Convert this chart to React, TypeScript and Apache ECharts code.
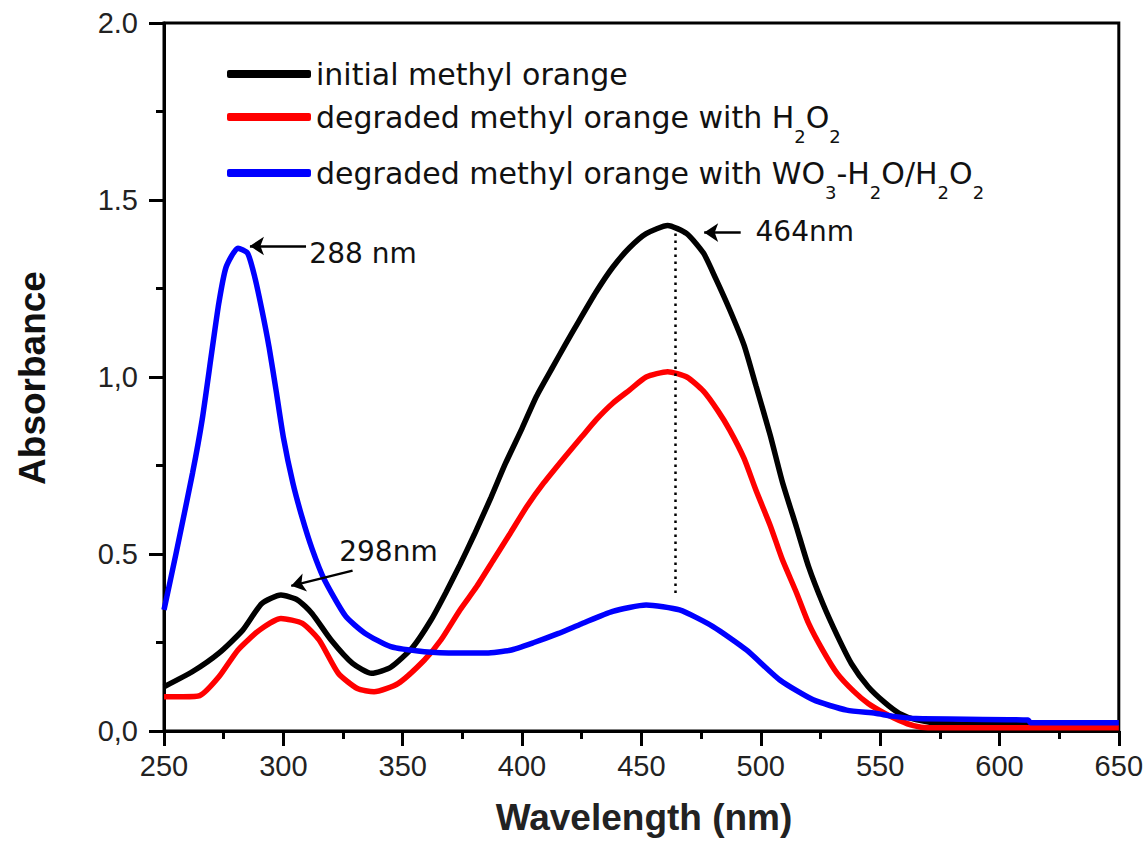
import React, { useEffect, useRef } from "react";
import * as echarts from "echarts";

// ---- data ----
const seriesNames = [
  "initial methyl orange",
  "degraded methyl orange with H2O2",
  "degraded methyl orange with WO3-H2O/H2O2",
];

const blackX = [250, 262, 273, 283, 291, 299, 306, 312, 320, 329, 337, 345, 354, 362, 368, 374, 380, 387, 393, 400, 406, 413, 418, 424, 431, 438, 445, 452, 461, 469, 476, 481, 487, 493, 498, 504, 509, 515, 520, 526, 532, 538, 545, 552, 558, 565, 575, 600, 650];
const blackY = [0.125, 0.168, 0.22, 0.285, 0.36, 0.384, 0.37, 0.332, 0.257, 0.191, 0.163, 0.18, 0.235, 0.315, 0.39, 0.47, 0.555, 0.66, 0.755, 0.855, 0.945, 1.03, 1.09, 1.16, 1.24, 1.31, 1.365, 1.405, 1.428, 1.405, 1.35, 1.28, 1.19, 1.09, 0.975, 0.835, 0.705, 0.575, 0.465, 0.36, 0.27, 0.19, 0.125, 0.08, 0.05, 0.032, 0.022, 0.018, 0.018];

const redX = [250, 258, 265, 273, 281, 290, 299, 308, 315, 323, 331, 338, 348, 359, 366, 374, 381, 388, 395, 402, 409, 418, 425, 431, 438, 445, 452, 461, 469, 476, 482, 487, 493, 498, 504, 509, 515, 520, 526, 532, 539, 545, 552, 558, 564, 570, 650];
const redY = [0.097, 0.097, 0.1, 0.153, 0.229, 0.285, 0.318, 0.304, 0.257, 0.163, 0.12, 0.111, 0.134, 0.2, 0.257, 0.342, 0.408, 0.483, 0.558, 0.634, 0.7, 0.775, 0.831, 0.879, 0.926, 0.963, 1.0, 1.015, 1.0, 0.96, 0.905, 0.85, 0.77, 0.68, 0.58, 0.485, 0.39, 0.305, 0.228, 0.163, 0.112, 0.078, 0.05, 0.03, 0.015, 0.009, 0.009];

const blueX = [250, 255, 262, 266, 270, 273, 276, 281, 285, 288, 291, 294, 297, 300, 304, 308, 312, 317, 326, 334, 345, 359, 373, 385, 395, 405, 415, 425, 438, 452, 466, 480, 494, 508, 522, 536, 548, 555, 565, 612, 613, 650];
const blueY = [0.342, 0.5, 0.73, 0.88, 1.07, 1.21, 1.31, 1.364, 1.35, 1.283, 1.19, 1.085, 0.96, 0.83, 0.7, 0.6, 0.515, 0.43, 0.325, 0.277, 0.238, 0.224, 0.22, 0.22, 0.228, 0.25, 0.275, 0.303, 0.338, 0.356, 0.342, 0.295, 0.229, 0.144, 0.088, 0.059, 0.05, 0.042, 0.035, 0.031, 0.023, 0.023];

const xTicks = { min: 250, max: 650, interval: 50 };
const yTicks = { min: 0, max: 2, interval: 0.5 };

// annotations: [wavelength, absorbance]
const peakLabels = [
  { text: "288 nm", at: [310.9, 1.35] },
  { text: "298nm", at: [323.4, 0.508] },
  { text: "464nm", at: [497.8, 1.41] },
];
const arrows = [
  { from: [309.5, 1.37], to: [286, 1.37] },
  { from: [329.0, 0.453], to: [303.3, 0.41] },
  { from: [491.6, 1.408], to: [476.3, 1.408] },
];
const peakLine = { from: [464, 1.425], to: [464, 0.385] };

const legendRich: Record<string, string> = {
  [seriesNames[0]]: "{t|initial methyl orange}",
  [seriesNames[1]]: "{t|degraded methyl orange with H}{s|2}{t|O}{s|2}",
  [seriesNames[2]]:
    "{t|degraded methyl orange with WO}{s|3}{t|-H}{s|2}{t|O/H}{s|2}{t|O}{s|2}",
};

const zip = (xs: number[], ys: number[]) => xs.map((x, i) => [x, ys[i]]);

export default function App() {
  const ref = useRef<HTMLDivElement>(null);
  useEffect(() => {
    if (!ref.current) return;
    const chart = echarts.init(ref.current, undefined, { renderer: "svg" });
    const tickFont = { fontFamily: "Liberation Sans", fontSize: 29, color: "#222" };
    const annFont = { fontFamily: "DejaVu Sans", fontSize: 28, color: "#111" };
    chart.setOption({
      animation: false,
      backgroundColor: "#fff",
      grid: {
        left: 164,
        right: 22,
        top: 23,
        bottom: 110,
        show: true,
        borderColor: "#000",
        borderWidth: 3,
      },
      legend: {
        orient: "vertical",
        left: 222,
        top: 54,
        itemWidth: 84,
        itemHeight: 8,
        itemGap: 0,
        icon: "roundRect",
        data: seriesNames,
        formatter: (name: string) => legendRich[name] || name,
        textStyle: {
          color: "#111",
          rich: {
            t: { fontFamily: "DejaVu Sans", fontSize: 30, lineHeight: 32, color: "#111" },
            s: {
              fontFamily: "DejaVu Sans",
              fontSize: 18,
              lineHeight: 18,
              padding: [38, 0, 0, 0],
              color: "#111",
            },
          },
        },
      },
      xAxis: {
        type: "value",
        min: xTicks.min,
        max: xTicks.max,
        interval: xTicks.interval,
        axisLine: { lineStyle: { color: "#000", width: 3 } },
        axisTick: { length: 15, lineStyle: { color: "#000", width: 3 } },
        minorTick: { show: true, splitNumber: 2, length: 8, lineStyle: { color: "#000", width: 3 } },
        splitLine: { show: false },
        axisLabel: { margin: 20, ...tickFont },
      },
      yAxis: {
        type: "value",
        min: yTicks.min,
        max: yTicks.max,
        interval: yTicks.interval,
        axisLine: { lineStyle: { color: "#000", width: 3 } },
        axisTick: { length: 15, lineStyle: { color: "#000", width: 3 } },
        minorTick: { show: true, splitNumber: 2, length: 8, lineStyle: { color: "#000", width: 3 } },
        splitLine: { show: false },
        axisLabel: {
          margin: 26,
          ...tickFont,
          formatter: (v: number) =>
            v === 0 ? "0,0" : v === 1 ? "1,0" : v.toFixed(1),
        },
      },
      graphic: [
        {
          type: "text",
          x: 32,
          y: 378,
          rotation: Math.PI / 2,
          style: {
            text: "Absorbance",
            fontFamily: "Liberation Sans",
            fontWeight: "bold",
            fontSize: 37,
            fill: "#111",
            align: "center",
            verticalAlign: "middle",
          },
        },
        {
          type: "text",
          x: 644,
          y: 817,
          style: {
            text: "Wavelength (nm)",
            fontFamily: "Liberation Sans",
            fontWeight: "bold",
            fontSize: 37,
            fill: "#222",
            align: "center",
            verticalAlign: "middle",
          },
        },
      ],
      series: [
        {
          name: seriesNames[0],
          type: "line",
          data: zip(blackX, blackY),
          showSymbol: false,
          smooth: 0.2,
          color: "#000",
          lineStyle: { width: 5.5, color: "#000" },
          z: 2,
          markPoint: {
            silent: true,
            symbol: "circle",
            symbolSize: 0,
            label: {
              show: true,
              position: "right",
              distance: 0,
              ...annFont,
              formatter: (p: any) => p.name,
            },
            data: peakLabels.map((p) => ({ name: p.text, coord: p.at })),
          },
          markLine: {
            silent: true,
            animation: false,
            label: { show: false },
            symbolSize: 14,
            data: [
              ...arrows.map((a) => [
                { coord: a.from, symbol: "none", lineStyle: { color: "#000", width: 2.5, type: "solid" } },
                { coord: a.to, symbol: "arrow" },
              ]),
              [
                { coord: peakLine.from, symbol: "none", lineStyle: { color: "#000", width: 2.5, type: [2.5, 4.5] } },
                { coord: peakLine.to, symbol: "none" },
              ],
            ],
          },
        },
        {
          name: seriesNames[1],
          type: "line",
          data: zip(redX, redY),
          showSymbol: false,
          smooth: 0.2,
          color: "#ff0000",
          lineStyle: { width: 5.5, color: "#ff0000" },
          z: 3,
        },
        {
          name: seriesNames[2],
          type: "line",
          data: zip(blueX, blueY),
          showSymbol: false,
          smooth: 0.2,
          color: "#0000ff",
          lineStyle: { width: 5.5, color: "#0000ff" },
          z: 4,
        },
      ],
    });
    return () => chart.dispose();
  }, []);
  return (
    <div
      ref={ref}
      style={{ position: "fixed", left: 0, top: 0, width: 1146, height: 841, background: "#fff" }}
    />
  );
}
